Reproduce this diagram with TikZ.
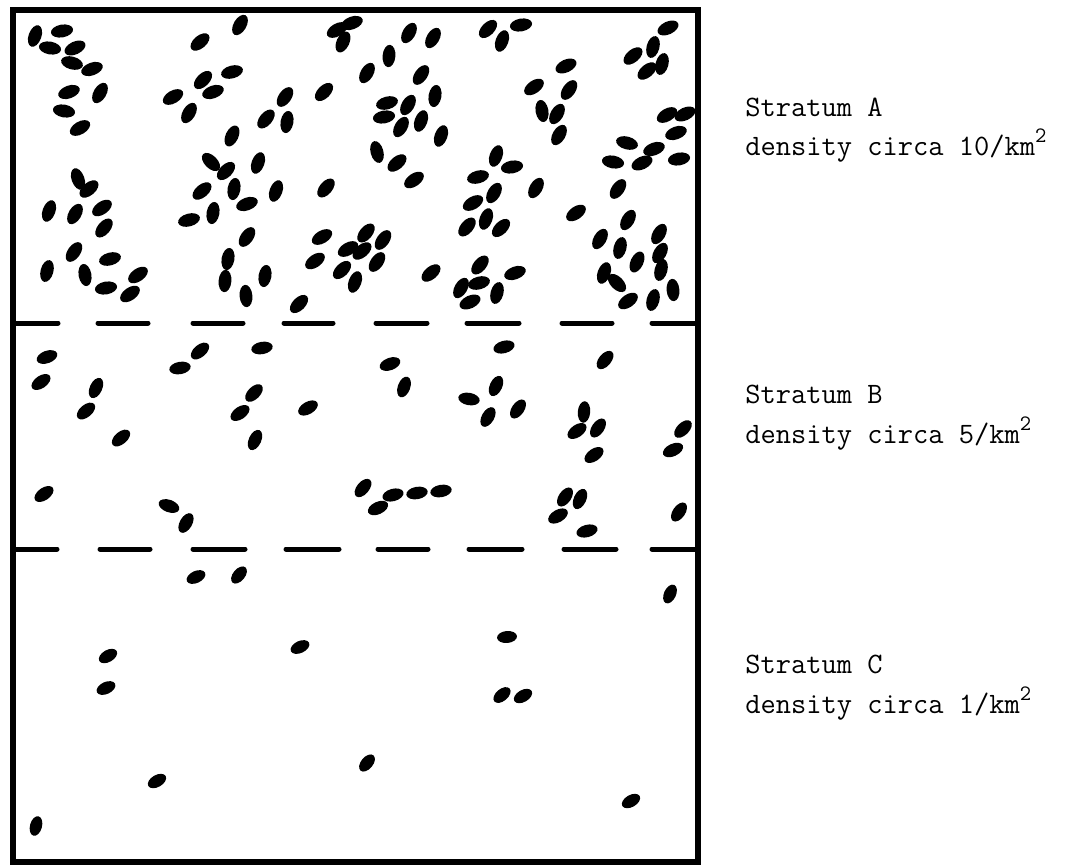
\documentclass[tikz,border=0pt]{standalone}
\usepackage{tikz}
\usepackage{amsmath}
\usepackage{xcolor}

\tikzset{
	frame/.style={line width=2.6pt},
	cut/.style={line width=2.5pt, line cap=round},
	grain/.style={fill=black},
	lbl/.style={font=\fontsize{14.8}{18}\selectfont\ttfamily, inner sep=0pt, anchor=base west}
}
\newcommand{\sqsup}{\raisebox{0.95ex}{\fontsize{11}{11}\selectfont 2}}

\begin{document}
\begin{tikzpicture}[x=0.5pt, y=-0.5pt]
	\useasboundingbox (0,0) rectangle (1079,867);
	\draw [frame] (13,10) rectangle (698,862);
	\foreach \a/\b in {13/58, 98/148, 193/243, 284/333, 376/427, 467/519, 562/612, 652/698}
		\draw [cut] (\a,323) -- (\b,323);
	\foreach \a/\b in {13/57, 100/150, 193/245, 286/339, 378/428, 469/522, 564/616, 652/698}
		\draw [cut] (\a,549) -- (\b,549);
	\foreach \x/\y/\r in {35/36/70, 62/31/10, 50/48/-10, 75/48/25, 72/63/-15, 92/69/20, 69/92/20, 100/93/60,
		64/111/-10, 80/128/30, 200/42/40, 240/25/60, 232/72/15, 203/80/45, 213/92/20, 173/97/30,
		189/113/60, 285/97/55, 266/119/50, 287/122/80, 232/136/65, 324/92/45, 343/42/65, 337/30/30,
		352/23/20, 78/179/110, 89/189/40, 49/211/70, 75/214/60, 102/208/35, 104/228/50, 74/252/55,
		110/259/15, 47/271/75, 85/275/100, 106/288/10, 138/275/35, 130/294/35, 211/162/135, 226/171/45,
		258/163/70, 202/191/40, 234/189/80, 247/204/20, 276/191/70, 189/220/15, 213/213/80, 326/188/50,
		247/237/55, 228/259/80, 225/281/85, 265/276/80, 246/296/95, 299/304/45, 322/237/30, 315/261/35,
		348/249/30, 342/270/45, 355/282/70}
		\fill [grain] (\x,\y) circle [x radius=5.6pt, y radius=3.2pt, rotate=\r];
	\foreach \x/\y/\r in {409/33/60, 433/38/60, 389/56/85, 367/73/60, 421/75/55, 435/96/80, 387/103/15,
		408/105/60, 384/117/10, 401/127/60, 421/121/70, 441/136/70, 377/152/105, 397/163/40, 414/180/35,
		488/29/45, 521/25/10, 502/41/70, 566/66/25, 534/87/35, 569/90/55, 542/111/100, 557/114/60,
		559/135/60, 668/28/25, 653/47/75, 633/56/40, 647/71/40, 662/64/75, 667/115/30, 685/114/25,
		676/133/20, 627/143/-15, 654/149/20, 613/162/-10, 642/163/25, 679/159/10, 496/156/70, 512/167/10,
		478/177/15, 536/188/60, 494/193/60, 473/203/30, 467/227/50, 486/219/70, 501/228/45, 576/213/35,
		618/189/55, 628/220/60, 600/239/60, 620/248/75, 659/234/60, 660/253/60, 637/262/65, 604/273/70,
		617/283/135, 661/270/75, 673/290/95, 628/301/35, 653/300/75, 366/233/50, 383/240/55, 362/251/40,
		377/262/55, 431/273/40, 480/265/50, 479/283/15, 515/273/20, 461/288/60, 470/302/25, 497/293/75}
		\fill [grain] (\x,\y) circle [x radius=5.6pt, y radius=3.2pt, rotate=\r];
	\foreach \x/\y/\r in {47/357/20, 41/382/35, 96/388/65, 86/411/40, 121/438/40, 200/351/40, 180/368/10,
		262/348/10, 254/393/45, 240/413/35, 255/440/65, 308/408/30, 44/494/35, 169/506/-20, 186/523/60,
		390/364/20, 404/387/70, 504/347/15, 605/360/50, 469/399/-10, 496/386/65, 488/417/60, 518/409/55,
		584/412/85, 577/431/35, 598/428/55, 594/455/35, 683/429/45, 673/450/25, 363/488/50, 378/508/25,
		393/495/15, 417/493/10, 441/491/10, 565/497/55, 580/499/65, 558/516/30, 587/531/15, 679/512/55}
		\fill [grain] (\x,\y) circle [x radius=5.4pt, y radius=3.1pt, rotate=\r];
	\foreach \x/\y/\r in {196/577/25, 239/575/50, 108/656/30, 106/688/25, 300/647/25, 157/781/30,
		36/826/75, 670/594/65, 507/637/5, 502/695/40, 523/696/30, 367/763/50, 631/801/30}
		\fill [grain] (\x,\y) circle [x radius=5pt, y radius=3pt, rotate=\r];
	\node [lbl] (labA) at (745,116) {Stratum A};
	\node [lbl] (denA) at (745,155) {density circa 10/km\sqsup};
	\node [lbl] (labB) at (745,403) {Stratum B};
	\node [lbl] (denB) at (745,443) {density circa 5/km\sqsup};
	\node [lbl] (labC) at (745,673) {Stratum C};
	\node [lbl] (denC) at (745,713) {density circa 1/km\sqsup};
\end{tikzpicture}
\end{document}
